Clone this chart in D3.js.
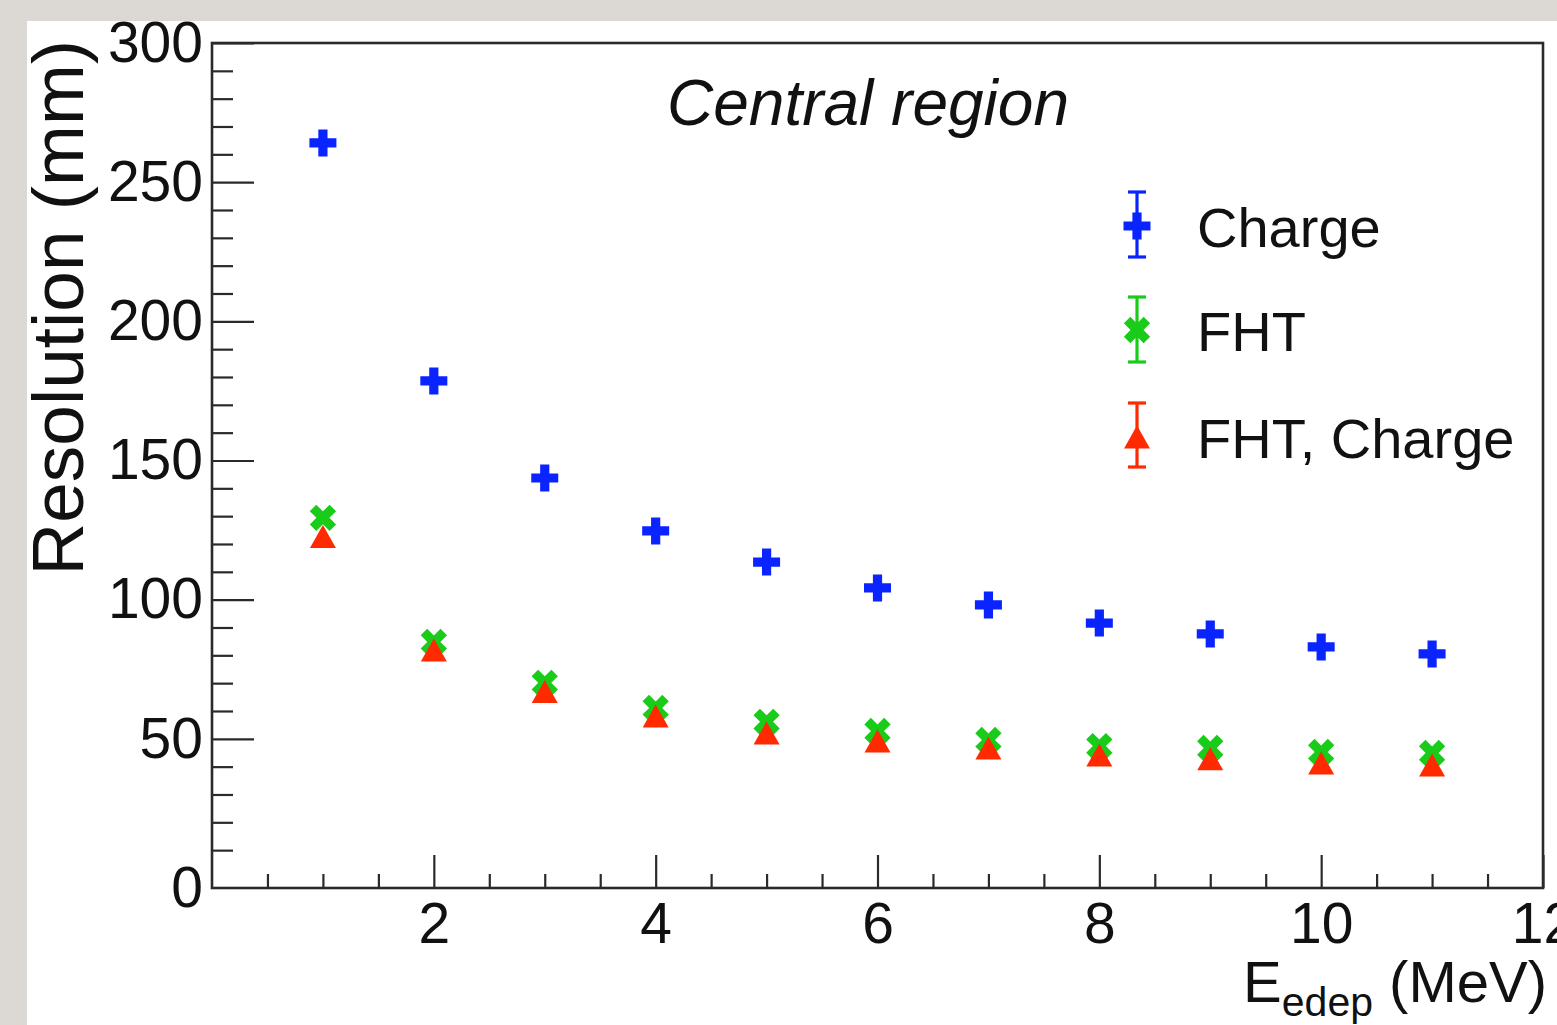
<!DOCTYPE html>
<html>
<head>
<meta charset="utf-8">
<script src="https://cdn.jsdelivr.net/npm/d3@7"></script>
<style>
  html, body { margin: 0; padding: 0; background: #dcd9d4; }
  svg { display: block; }
  text { font-family: "Liberation Sans", Arial, Helvetica, sans-serif; fill: #111; }
</style>
</head>
<body>
<svg id="chart" width="1557" height="1025"></svg>
<script>
// Deposited energy (MeV) of each measurement
const energies = [1, 2, 3, 4, 5, 6, 7, 8, 9, 10, 11];
// Vertex resolution (mm) for the three reconstruction methods
const chargeRes    = [264.1, 178.6, 143.7, 124.7, 113.5, 104.2, 98.1, 91.6, 87.7, 83.0, 80.5];
const fhtRes       = [129.4, 84.8, 70.1, 61.1, 56.1, 52.8, 49.6, 47.4, 46.7, 45.3, 44.9];
const fhtChargeRes = [122.7, 81.9, 67.0, 58.2, 52.1, 49.2, 46.7, 44.2, 42.8, 41.3, 40.6];

const seriesNames = ["Charge", "FHT", "FHT, Charge"];
const xMajorTicks = [2, 4, 6, 8, 10, 12];
const yMajorTicks = [0, 50, 100, 150, 200, 250, 300];

const W = 1557, H = 1025;
const frame = { left: 212, right: 1543, top: 43, bottom: 888 };

const svg = d3.select("#chart");

// page backdrop and white canvas
svg.append("rect").attr("width", W).attr("height", H).attr("fill", "#dcd9d4");
svg.append("rect").attr("x", 27).attr("y", 21).attr("width", W - 27).attr("height", H - 21).attr("fill", "#ffffff");

const x = d3.scaleLinear().domain([0, 12]).range([frame.left, frame.right]);
const y = d3.scaleLinear().domain([-3.6, 300]).range([frame.bottom, frame.top]);

// ----- axes (ticks point inward, ROOT style) -----
const axisColor = "#2a2a2a";

const xMinor = d3.range(0.5, 12, 0.5).filter(v => v % 2 !== 0);
svg.append("g")
  .attr("transform", `translate(0,${frame.bottom})`)
  .call(d3.axisBottom(x).tickValues(xMinor).tickSize(-14).tickFormat(""))
  .call(g => g.select(".domain").remove());
svg.append("g")
  .attr("class", "xaxis")
  .attr("transform", `translate(0,${frame.bottom})`)
  .call(d3.axisBottom(x).tickValues(xMajorTicks).tickSize(-33).tickPadding(15).tickFormat(d3.format("d")))
  .call(g => g.select(".domain").remove());

const yMinor = d3.range(10, 300, 10).filter(v => v % 50 !== 0);
svg.append("g")
  .attr("transform", `translate(${frame.left},0)`)
  .call(d3.axisLeft(y).tickValues(yMinor).tickSize(-21).tickFormat(""))
  .call(g => g.select(".domain").remove());
svg.append("g")
  .attr("class", "yaxis")
  .attr("transform", `translate(${frame.left},0)`)
  .call(d3.axisLeft(y).tickValues(yMajorTicks).tickSize(-42).tickPadding(9).tickFormat(d3.format("d")))
  .call(g => g.select(".domain").remove());

svg.selectAll(".xaxis line, .yaxis line, g line").attr("stroke", axisColor).attr("stroke-width", 2.2);
svg.selectAll(".xaxis text, .yaxis text")
  .attr("font-size", 57)
  .attr("font-family", "'Liberation Sans', Arial, sans-serif")
  .attr("fill", "#111");
// the zero label sits on the bottom edge of the frame
svg.selectAll(".yaxis .tick").filter(d => d === 0)
  .call(t => t.select("line").remove())
  .select("text").attr("y", y(-3.6) - y(0));

// frame
svg.append("rect")
  .attr("x", frame.left).attr("y", frame.top)
  .attr("width", frame.right - frame.left).attr("height", frame.bottom - frame.top)
  .attr("fill", "none").attr("stroke", axisColor).attr("stroke-width", 2.6);

// ----- marker shapes -----
function plusPath(h, t) {
  return `M${-t},${-h}L${t},${-h}L${t},${-t}L${h},${-t}L${h},${t}L${t},${t}L${t},${h}L${-t},${h}L${-t},${t}L${-h},${t}L${-h},${-t}L${-t},${-t}Z`;
}
function triPath(w, h) {
  return `M${-w / 2},${h / 2}L${w / 2},${h / 2}L0,${-h / 2}Z`;
}
const markers = [
  { name: seriesNames[0], values: chargeRes,    color: "#0a24ff", d: plusPath(13.5, 4.6), rot: 0 },
  { name: seriesNames[1], values: fhtRes,       color: "#19cc19", d: plusPath(14, 4.6),   rot: 45 },
  { name: seriesNames[2], values: fhtChargeRes, color: "#ff2a00", d: triPath(26, 23),     rot: 0 }
];

// ----- data points -----
markers.forEach(s => {
  svg.append("g")
    .selectAll("path")
    .data(energies.map((e, i) => [e, s.values[i]]))
    .join("path")
    .attr("d", s.d)
    .attr("fill", s.color)
    .attr("transform", d => `translate(${x(d[0])},${y(d[1])}) rotate(${s.rot})`);
});

// ----- title inside the frame -----
svg.append("text")
  .attr("x", 868).attr("y", 125)
  .attr("text-anchor", "middle")
  .attr("font-size", 64)
  .attr("font-style", "italic")
  .text("Central region");

// ----- axis titles -----
svg.append("text")
  .attr("transform", "translate(83,40) rotate(-90)")
  .attr("text-anchor", "end")
  .attr("font-size", 73)
  .text("Resolution (mm)");

const xt = svg.append("text")
  .attr("x", 1547).attr("y", 1002)
  .attr("text-anchor", "end")
  .attr("font-size", 58);
xt.append("tspan").text("E");
xt.append("tspan").attr("font-size", 41).attr("dy", 14).text("edep");
xt.append("tspan").attr("dy", -14).text(" (MeV)");

// ----- legend -----
const legendRows = [
  { y: 226, bar: [192, 257] },
  { y: 330, bar: [297, 362] },
  { y: 437, bar: [403, 467] }
];
const lx = 1137;
markers.forEach((s, i) => {
  const r = legendRows[i];
  const g = svg.append("g").attr("stroke", s.color).attr("stroke-width", 3.2);
  g.append("line").attr("x1", lx).attr("x2", lx).attr("y1", r.bar[0]).attr("y2", r.bar[1]);
  g.append("line").attr("x1", lx - 9).attr("x2", lx + 9).attr("y1", r.bar[0]).attr("y2", r.bar[0]);
  g.append("line").attr("x1", lx - 9).attr("x2", lx + 9).attr("y1", r.bar[1]).attr("y2", r.bar[1]);
  svg.append("path")
    .attr("d", s.d)
    .attr("fill", s.color)
    .attr("transform", `translate(${lx},${r.y}) rotate(${s.rot})`);
  svg.append("text")
    .attr("x", 1197).attr("y", r.y + 21)
    .attr("font-size", 56)
    .text(s.name);
});
</script>
</body>
</html>
